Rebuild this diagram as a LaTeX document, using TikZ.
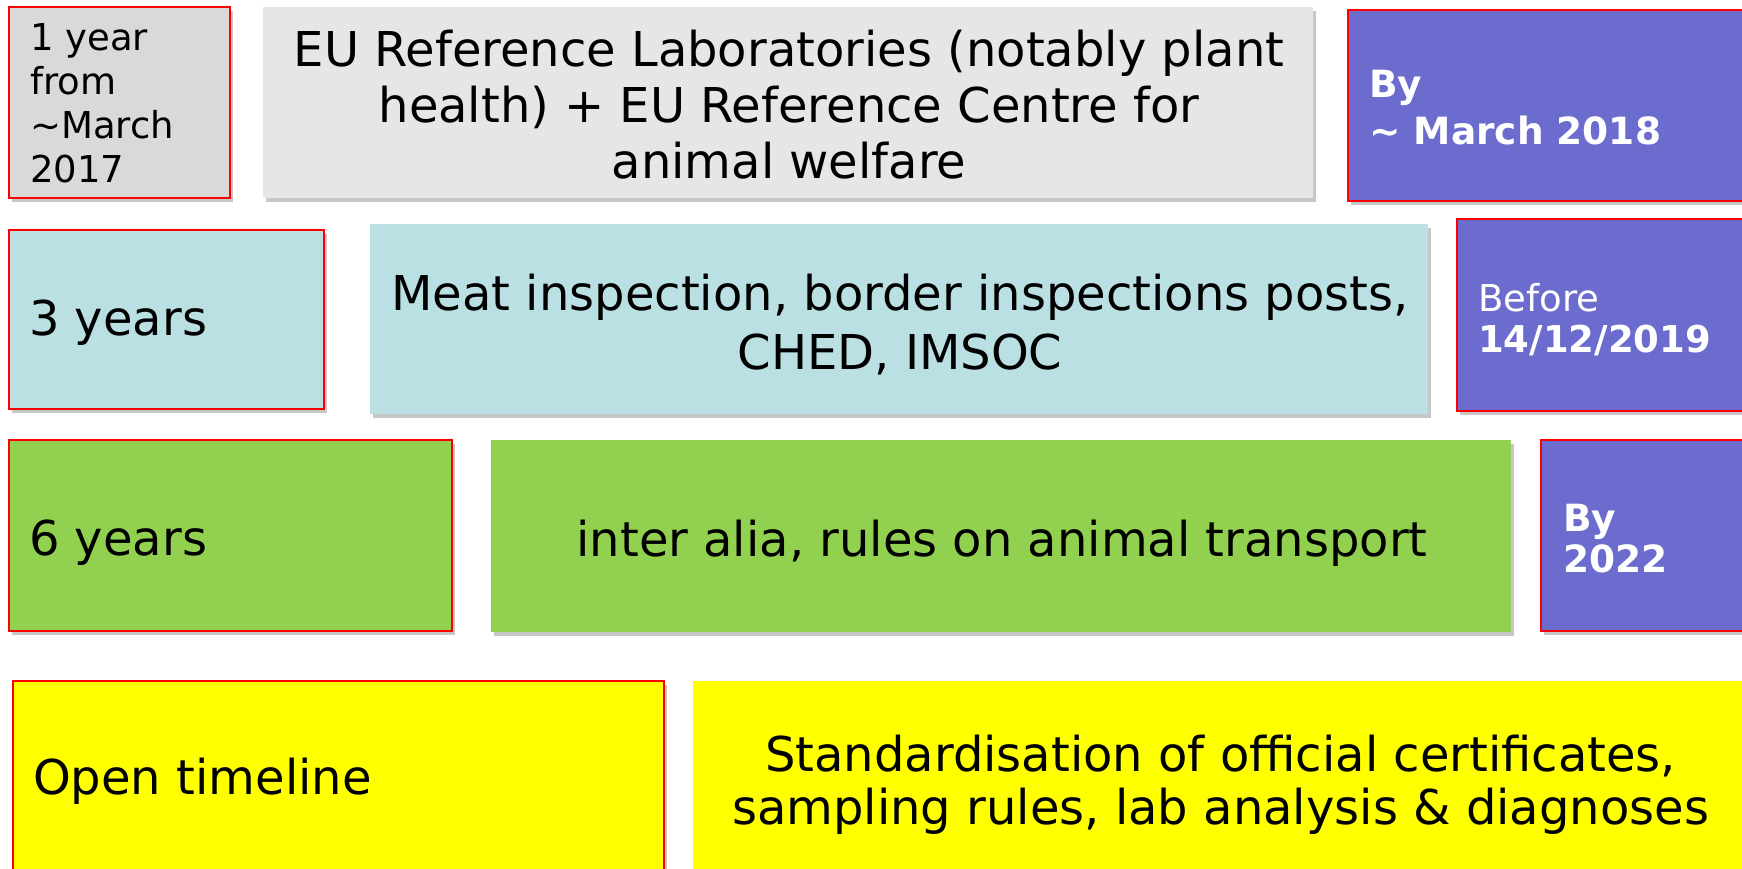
\documentclass[tikz,border=0pt]{standalone}
\usepackage{fontspec}
\setmainfont{DejaVu Sans}
\usetikzlibrary{shadows}
\definecolor{grayA}{HTML}{D9D9D9}
\definecolor{grayB}{HTML}{E6E6E6}
\definecolor{purp}{HTML}{6B6CCD}
\definecolor{teal}{HTML}{BAE0E3}
\definecolor{grn}{HTML}{92D050}
\definecolor{yel}{HTML}{FFFF00}
\definecolor{redb}{HTML}{FF0000}
\tikzset{
  boxbase/.style={rectangle, inner sep=0pt, anchor=center,
    drop shadow={shadow xshift=2.5pt, shadow yshift=-4pt, fill=black, opacity=0.22}},
  redbox/.style={boxbase, draw=redb, line width=2pt},
  plainbox/.style={boxbase},
  lefttxt/.style={align=left, anchor=west, inner sep=0pt},
  midtxt/.style={align=center, anchor=center, inner sep=0pt},
  bigfont/.style={font=\fontsize{48}{56}\selectfont},
  datefont/.style={font=\fontsize{37.5}{#1}\selectfont, text=white}
}
\begin{document}
\begin{tikzpicture}[x=1pt,y=-1pt]
\useasboundingbox (0,0) rectangle (1742,869);
\clip (0,0) rectangle (1742,869);
% ---------- boxes ----------
\node[redbox,   fill=grayA, minimum width=221pt,  minimum height=191pt] (r1a) at (119.5,102.5) {};
\node[plainbox, fill=grayB, minimum width=1050pt, minimum height=191pt] (r1b) at (788,102.5) {};
\node[redbox,   fill=purp,  minimum width=402pt,  minimum height=191pt] (r1c) at (1549,105.5) {};
\node[redbox,   fill=teal,  minimum width=315pt,  minimum height=179pt] (r2a) at (166.5,319.5) {};
\node[plainbox, fill=teal,  minimum width=1058pt, minimum height=190pt] (r2b) at (899,319) {};
\node[redbox,   fill=purp,  minimum width=293pt,  minimum height=192pt] (r2c) at (1603.5,315) {};
\node[redbox,   fill=grn,   minimum width=443pt,  minimum height=191pt] (r3a) at (230.5,535.5) {};
\node[plainbox, fill=grn,   minimum width=1020pt, minimum height=192pt] (r3b) at (1001,536) {};
\node[redbox,   fill=purp,  minimum width=209pt,  minimum height=191pt] (r3c) at (1645.5,535.5) {};
\node[redbox,   fill=yel,   minimum width=651pt,  minimum height=191pt] (r4a) at (338.5,776.5) {};
\node[plainbox, fill=yel,   minimum width=1057pt, minimum height=191pt] (r4b) at (1221.5,776.5) {};
% ---------- texts ----------
\node[lefttxt, font=\fontsize{37}{44}\selectfont] (t1a) at (30,103)
  {1 year\\from\\\char`~March\\2017};
\node[midtxt, bigfont] (t1b) at (789,104.7)
  {EU Reference Laboratories (notably plant\\health) + EU Reference Centre for\\animal welfare};
\node[lefttxt, datefont=46.5] (t1c) at (1369,107.7)
  {\bfseries By\\\bfseries \char`~{} March 2018};
\node[lefttxt, bigfont] (t2a) at (29,322.5) {3 years};
\node[midtxt, font=\fontsize{48}{59}\selectfont] (t2b) at (900,324.5)
  {Meat inspection, border inspections posts,\\CHED, IMSOC};
\node[lefttxt, font=\fontsize{37}{41}\selectfont, text=white] (t2c) at (1478,319.4)
  {Before\\\bfseries 14/12/2019};
\node[lefttxt, bigfont] (t3a) at (29,542.5) {6 years};
\node[midtxt, bigfont] (t3b) at (1002,543) {inter alia, rules on animal transport};
\node[lefttxt, datefont=41] (t3c) at (1563,538.8)
  {\bfseries By\\\bfseries 2022};
\node[lefttxt, bigfont] (t4a) at (33,781) {Open timeline};
\node[midtxt, font=\fontsize{48}{53}\selectfont] (t4b) at (1220.5,784.3)
  {Standardisation of official certificates,\\sampling rules, lab analysis \& diagnoses};
\end{tikzpicture}
\end{document}
